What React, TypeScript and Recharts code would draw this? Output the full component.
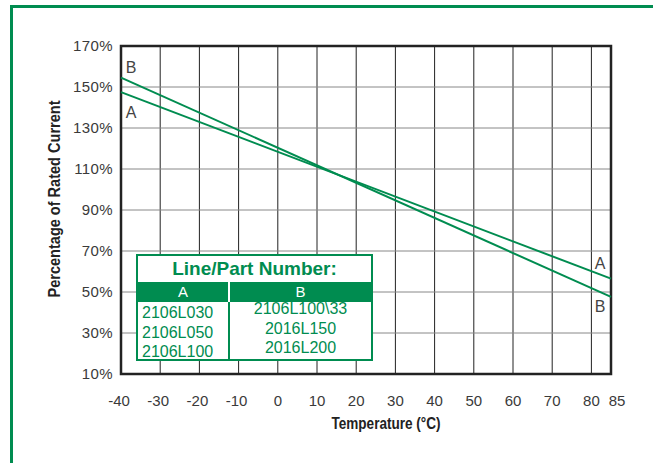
import React from 'react';
import {
  LineChart, Line, XAxis, YAxis, CartesianGrid, ReferenceArea
} from 'recharts';

// values
const temps = [-40, 85];
const lineA = [147.5, 56.5];
const lineB = [154.6, 47.6];
const xTicks = [-40, -30, -20, -10, 0, 10, 20, 30, 40, 50, 60, 70, 80, 85];
const yTicks = [10, 30, 50, 70, 90, 110, 130, 150, 170];
const partsA = ['2106L030', '2106L050', '2106L100'];
const partsB = ['2106L100\\33', '2016L150', '2016L200'];

const GREEN = '#008c50';
const FONT = '"Liberation Sans", Arial, Helvetica, sans-serif';

const data = temps.map((t, i) => ({ t, a: lineA[i], b: lineB[i] }));

// where the A/B letters sit next to the line ends
const labelOffsetsA = [{ dx: 10, dy: 20 }, { dx: -11, dy: -15 }];
const labelOffsetsB = [{ dx: 10, dy: -10 }, { dx: -11, dy: 10 }];

const endLabel = (name: string, offsets: { dx: number; dy: number }[]) => (props: any) => {
  const { x, y, index } = props;
  const o = offsets[index];
  if (!o || x == null || y == null) return null;
  return (
    <text
      key={name + index}
      x={x + o.dx}
      y={y + o.dy}
      textAnchor="middle"
      dominantBaseline="central"
      fontSize={16}
      fontFamily={FONT}
      fill="#444"
    >
      {name}
    </text>
  );
};

const XTick = (props: any) => {
  const { x, y, payload } = props;
  const shift = payload.value === 85 ? 6 : payload.value < 0 ? -2 : 0;
  return (
    <text
      x={x + shift}
      y={y}
      dy="0.71em"
      textAnchor="middle"
      fontSize={15}
      fontFamily={FONT}
      fill="#3a3a3a"
    >
      {payload.value}
    </text>
  );
};

const PartTable = () => (
  <div
    style={{
      position: 'absolute', left: 136, top: 254, width: 237, height: 107,
      boxSizing: 'border-box', border: `2px solid ${GREEN}`, background: '#fff',
      fontFamily: FONT, color: GREEN,
    }}
  >
    <div style={{
      position: 'absolute', left: 0, right: 0, top: 0, height: 26,
      textAlign: 'center', lineHeight: '26px', fontWeight: 'bold', fontSize: 19,
    }}>
      Line/Part Number:
    </div>
    <div style={{
      position: 'absolute', left: 0, right: 0, top: 26, height: 20, background: GREEN,
      color: '#fff', fontSize: 15, lineHeight: '20px',
    }}>
      <span style={{ position: 'absolute', left: 0, width: 90, textAlign: 'center' }}>A</span>
      <span style={{ position: 'absolute', left: 92, right: 0, textAlign: 'center' }}>B</span>
    </div>
    <div style={{ position: 'absolute', left: 90, top: 26, width: 2, height: 20, background: '#fff' }} />
    <div style={{ position: 'absolute', left: 90, top: 46, width: 2, bottom: 0, background: GREEN }} />
    {partsA.map((p, i) => (
      <div key={p} style={{
        position: 'absolute', left: 4, top: 47 + i * 19.5, fontSize: 16, lineHeight: '20px',
      }}>{p}</div>
    ))}
    {partsB.map((p, i) => (
      <div key={p} style={{
        position: 'absolute', left: 92, right: 0, top: 43 + i * 19.5, fontSize: 16,
        lineHeight: '20px', textAlign: 'center',
      }}>{p}</div>
    ))}
  </div>
);

export default function App() {
  return (
    <div style={{ position: 'absolute', left: 0, top: 0, width: 653, height: 463, background: '#fff', overflow: 'hidden' }}>
      <div style={{
        position: 'absolute', left: 10, top: 5, width: 700, height: 500,
        borderLeft: `3px solid ${GREEN}`, borderTop: `3px solid ${GREEN}`,
      }} />
      <LineChart
        width={653}
        height={463}
        data={data}
        margin={{ top: 46, right: 42, left: 61, bottom: 59 }}
        style={{ position: 'absolute', left: 0, top: 0 }}
      >
        <CartesianGrid horizontal={false} stroke="#222" strokeWidth={1} />
        <CartesianGrid vertical={false} stroke="#888" strokeWidth={1} />
        <XAxis
          dataKey="t"
          type="number"
          domain={[-40, 85]}
          ticks={xTicks}
          interval={0}
          axisLine={false}
          tickLine={false}
          tickSize={0}
          tickMargin={21}
          height={30}
          tick={<XTick />}
        />
        <YAxis
          type="number"
          domain={[10, 170]}
          ticks={yTicks}
          interval={0}
          axisLine={false}
          tickLine={false}
          tickSize={0}
          tickMargin={8}
          width={60}
          tickFormatter={(v: number) => `${v}%`}
          tick={{ fontSize: 15, fontFamily: FONT, fill: '#3a3a3a', letterSpacing: 0.4 }}
        />
        <ReferenceArea
          x1={-40}
          x2={85}
          y1={10}
          y2={170}
          fill="none"
          fillOpacity={0}
          stroke="#222"
          strokeWidth={2.5}
          ifOverflow="visible"
        />
        <Line
          dataKey="a"
          stroke={GREEN}
          strokeWidth={2}
          dot={false}
          isAnimationActive={false}
          label={endLabel('A', labelOffsetsA)}
        />
        <Line
          dataKey="b"
          stroke={GREEN}
          strokeWidth={2}
          dot={false}
          isAnimationActive={false}
          label={endLabel('B', labelOffsetsB)}
        />
      </LineChart>
      <svg width={653} height={463} style={{ position: 'absolute', left: 0, top: 0, pointerEvents: 'none' }}>
        <text
          x={386}
          y={429}
          textAnchor="middle"
          fontFamily={FONT}
          fontWeight="bold"
          fontSize={16}
          fill="#222"
          textLength={109}
          lengthAdjust="spacingAndGlyphs"
        >
          Temperature (°C)
        </text>
        <text
          transform="translate(60 199) rotate(-90)"
          textAnchor="middle"
          fontFamily={FONT}
          fontWeight="bold"
          fontSize={16}
          fill="#222"
          textLength={197}
          lengthAdjust="spacingAndGlyphs"
        >
          Percentage of Rated Current
        </text>
      </svg>
      <PartTable />
    </div>
  );
}
